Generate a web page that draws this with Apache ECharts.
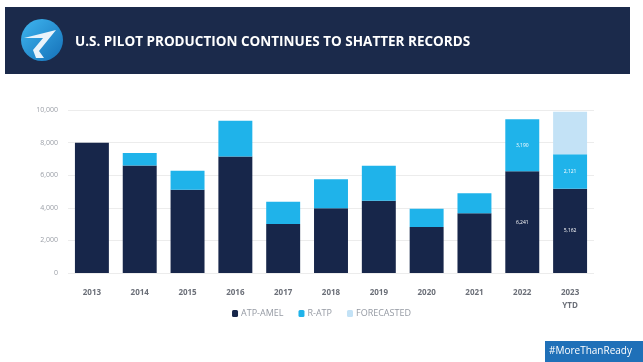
<!DOCTYPE html>
<html><head><meta charset="utf-8">
<script src="https://cdn.jsdelivr.net/npm/echarts@6/dist/echarts.min.js"></script>
<style>html,body{margin:0;padding:0;background:#fff}#c{width:643px;height:362px}</style>
</head><body><div id="c"></div>
<script>
var categories = ['2013','2014','2015','2016','2017','2018','2019','2020','2021','2022','2023\nYTD'];
var atpAmel   = [7998, 6590, 5100, 7140, 3000, 3980, 4430, 2820, 3670, 6241, 5162];
var rAtp      = [0, 770, 1180, 2200, 1370, 1770, 2150, 1120, 1220, 3190, 2121];
var forecasted= [0, 0, 0, 0, 0, 0, 0, 0, 0, 0, 2607];
var labeledIdx = [9, 10];
var yTicks = [0, 2000, 4000, 6000, 8000, 10000];
var titleText = 'U.S. PILOT PRODUCTION CONTINUES TO SHATTER RECORDS';
var tagText = '#MoreThanReady';

function fmt(v){return v.toString().replace(/\B(?=(\d{3})+(?!\d))/g, ',');}
function lbl(){return {show:true,position:'inside',color:'#fff',fontSize:5,fontFamily:'Open Sans',
  formatter:function(p){return labeledIdx.indexOf(p.dataIndex)>=0 && p.value>0 ? fmt(p.value) : '';}};}

var chart = echarts.init(document.getElementById('c'));
chart.setOption({
  animation:false,
  backgroundColor:'#fff',
  grid:{left:68,right:49,top:110,bottom:89,containLabel:false},
  xAxis:{type:'category',data:categories,
    axisLine:{show:false},axisTick:{show:false},
    axisLabel:{color:'#6b6f78',fontSize:8,fontWeight:'bold',fontFamily:'Open Sans',margin:13,lineHeight:13}},
  yAxis:{type:'value',min:yTicks[0],max:yTicks[yTicks.length-1],interval:2000,
    axisLine:{show:false},axisTick:{show:false},
    splitLine:{lineStyle:{color:'#ececec',width:1}},
    axisLabel:{color:'#9a9ea6',fontSize:7,fontFamily:'Open Sans',margin:10,formatter:function(v){return fmt(v);}}},
  legend:{bottom:39,left:'center',itemWidth:6,itemHeight:7,itemGap:15,
    textStyle:{color:'#959aa3',fontSize:9,fontFamily:'Open Sans',padding:[0,0,0,-2]},
    data:['ATP-AMEL','R-ATP','FORECASTED']},
  series:[
    {name:'ATP-AMEL',type:'bar',stack:'a',data:atpAmel,barCategoryGap:'29%',itemStyle:{color:'#17264a'},label:lbl()},
    {name:'R-ATP',type:'bar',stack:'a',data:rAtp,itemStyle:{color:'#1fb3ea'},label:lbl()},
    {name:'FORECASTED',type:'bar',stack:'a',data:forecasted,itemStyle:{color:'#c3e2f6'}}
  ],
  graphic:[
    {type:'rect',shape:{x:5,y:7,width:625,height:67},style:{fill:'#1b2a4b'}},
    {type:'circle',shape:{cx:42,cy:40,r:21},style:{fill:new echarts.graphic.LinearGradient(0,0,1,1,[{offset:0,color:'#3fb6f0'},{offset:1,color:'#1570b8'}])}},
    {type:'polygon',shape:{points:[[24,38],[56,30],[39,51],[44,58],[36,58],[33,50],[43,38]]},style:{fill:'#eaf3fb'}},
    {type:'text',left:75,top:35,style:{text:titleText,fill:'#ffffff',font:'bold 13.5px "Open Sans"'}},
    {type:'rect',shape:{x:545,y:341,width:98,height:21},style:{fill:'#1f70b8'}},
    {type:'text',left:549,top:346,style:{text:tagText,fill:'#ffffff',font:'10px "Open Sans"'}}
  ]
});
</script></body></html>
